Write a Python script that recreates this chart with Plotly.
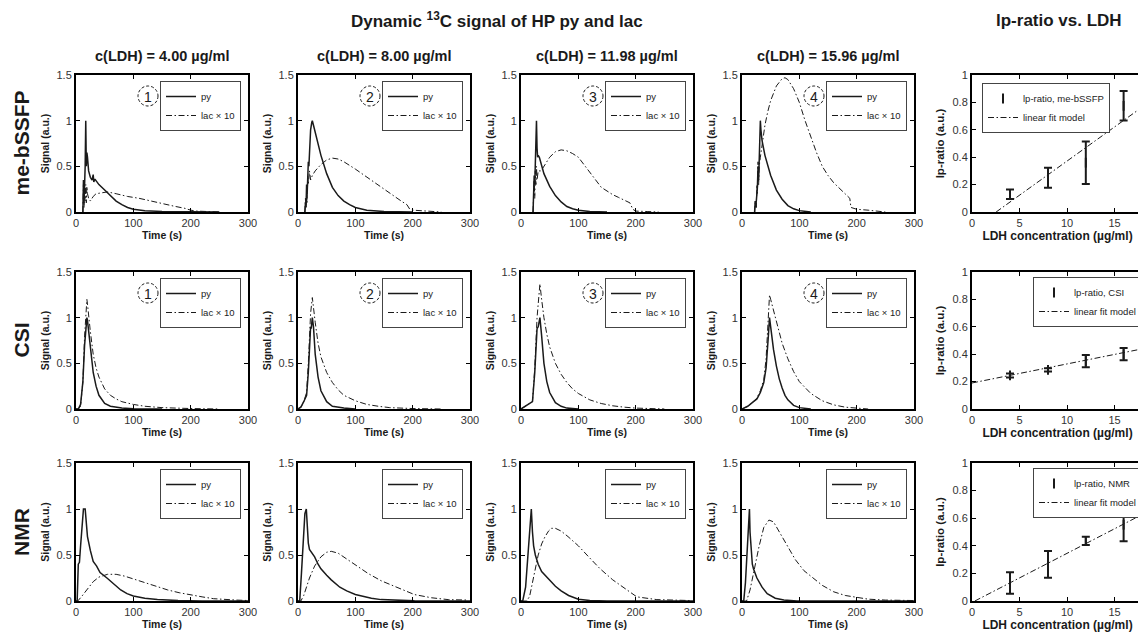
import plotly.graph_objects as go

# ---------------- DATA ----------------
methods = ["me-bSSFP", "CSI", "NMR"]
ldh_labels = ["c(LDH) = 4.00 µg/ml", "c(LDH) = 8.00 µg/ml", "c(LDH) = 11.98 µg/ml", "c(LDH) = 15.96 µg/ml"]
time_ticks = [0, 100, 200, 300]
signal_ticks = [0, 0.5, 1, 1.5]
ldh_ticks = [0, 5, 10, 15]
ratio_ticks = [0, 0.2, 0.4, 0.6, 0.8, 1]

# me-bSSFP
t_py_b1 = [12, 13, 14, 15, 16, 17, 18, 19, 20, 22, 25, 28, 30, 31, 33, 36, 40, 50, 60, 70, 80, 90, 100, 120, 150, 200, 250]
py_b1 = [0, 0.35, 0.1, 0.3, 0.5, 1.0, 0.5, 0.65, 0.6, 0.45, 0.38, 0.35, 0.41, 0.33, 0.36, 0.33, 0.3, 0.24, 0.18, 0.12, 0.08, 0.05, 0.03, 0.015, 0.005, 0, 0]
t_lac_b1 = [12, 13, 14, 15, 16, 17, 18, 19, 20, 22, 25, 28, 30, 35, 45, 55, 70, 90, 110, 130, 150, 170, 190, 200, 210, 230, 250]
lac_b1 = [0, 0.3, 0.05, 0.25, 0.12, 0.3, 0.1, 0.28, 0.2, 0.15, 0.12, 0.15, 0.17, 0.2, 0.21, 0.22, 0.2, 0.17, 0.15, 0.12, 0.09, 0.065, 0.04, 0.02, 0.01, 0.005, 0]

t_py_b2 = [12, 13, 14, 15, 16, 17, 18, 19, 20, 22, 24, 25, 27, 30, 35, 40, 50, 60, 70, 80, 90, 100, 120, 150, 200]
py_b2 = [0, 0.1, 0.05, 0.3, 0.2, 0.4, 0.55, 0.5, 0.7, 0.9, 0.98, 1.0, 0.95, 0.88, 0.76, 0.62, 0.42, 0.27, 0.18, 0.12, 0.08, 0.05, 0.02, 0.005, 0]
t_lac_b2 = [12, 13, 14, 15, 16, 17, 18, 20, 22, 25, 30, 40, 50, 60, 70, 80, 100, 120, 140, 160, 180, 190, 195, 200, 220, 250]
lac_b2 = [0, 0.15, 0.05, 0.2, 0.1, 0.4, 0.3, 0.45, 0.35, 0.4, 0.45, 0.52, 0.57, 0.59, 0.58, 0.55, 0.47, 0.38, 0.29, 0.2, 0.12, 0.08, 0.03, 0.02, 0.01, 0]

t_py_b3 = [21, 22, 23, 24, 25, 26, 27, 28, 29, 30, 32, 35, 40, 50, 60, 70, 80, 90, 100, 120, 150]
py_b3 = [0, 0.2, 0.4, 0.3, 0.5, 0.6, 1.0, 0.7, 0.6, 0.62, 0.6, 0.52, 0.42, 0.28, 0.18, 0.11, 0.06, 0.035, 0.02, 0.005, 0]
t_lac_b3 = [21, 22, 23, 24, 25, 26, 27, 28, 30, 35, 40, 50, 60, 70, 80, 90, 100, 110, 120, 130, 140, 150, 160, 170, 180, 190, 195, 200, 220, 240]
lac_b3 = [0, 0.15, 0.35, 0.15, 0.45, 0.3, 0.5, 0.35, 0.45, 0.45, 0.5, 0.6, 0.66, 0.68, 0.67, 0.64, 0.6, 0.52, 0.43, 0.35, 0.27, 0.23, 0.19, 0.16, 0.13, 0.1, 0.03, 0.01, 0.005, 0]

t_py_b4 = [22, 23, 24, 25, 26, 27, 28, 29, 30, 31, 32, 33, 35, 40, 45, 50, 60, 70, 80, 90, 100, 120]
py_b4 = [0, 0.12, 0.05, 0.1, 0.2, 0.3, 0.5, 0.35, 0.6, 0.8, 1.0, 0.9, 0.78, 0.62, 0.5, 0.4, 0.24, 0.14, 0.07, 0.035, 0.015, 0]
t_lac_b4 = [22, 23, 25, 26, 27, 28, 29, 30, 32, 35, 40, 45, 50, 60, 70, 75, 80, 90, 100, 110, 120, 130, 140, 150, 160, 170, 180, 188, 190, 200, 220, 240, 250]
lac_b4 = [0, 0.1, 0.05, 0.3, 0.2, 0.55, 0.3, 0.5, 0.6, 0.75, 0.95, 1.1, 1.22, 1.38, 1.46, 1.47, 1.45, 1.35, 1.2, 1.0, 0.82, 0.65, 0.5, 0.4, 0.32, 0.26, 0.2, 0.15, 0.05, 0.03, 0.02, 0.01, 0]

# CSI
t_py_c1 = [0, 4, 8, 12, 15, 17, 19, 20, 22, 25, 30, 35, 40, 50, 60, 80, 100, 150]
py_c1 = [0, 0, 0.05, 0.3, 0.7, 0.9, 1.0, 0.97, 0.85, 0.65, 0.4, 0.25, 0.15, 0.06, 0.03, 0.01, 0.003, 0]
t_lac_c1 = [0, 4, 8, 12, 15, 17, 19, 20, 22, 25, 30, 35, 40, 50, 60, 70, 80, 100, 120, 150, 200, 250]
lac_c1 = [0, 0, 0.03, 0.3, 0.8, 1.05, 1.2, 1.15, 1.0, 0.85, 0.6, 0.45, 0.35, 0.22, 0.15, 0.11, 0.08, 0.05, 0.03, 0.015, 0.005, 0]

t_py_c2 = [0, 5, 10, 15, 18, 20, 22, 23, 25, 27, 30, 35, 40, 50, 60, 80, 100]
py_c2 = [0, 0.02, 0.08, 0.15, 0.4, 0.7, 0.9, 0.88, 1.0, 0.9, 0.6, 0.35, 0.2, 0.08, 0.03, 0.01, 0]
t_lac_c2 = [0, 5, 10, 15, 18, 20, 22, 25, 27, 30, 35, 40, 50, 60, 70, 80, 100, 120, 140, 160, 200, 250]
lac_c2 = [0, 0.02, 0.08, 0.18, 0.5, 0.8, 1.05, 1.22, 1.1, 0.95, 0.72, 0.57, 0.4, 0.29, 0.21, 0.15, 0.09, 0.05, 0.03, 0.015, 0.005, 0]

t_py_c3 = [0, 5, 10, 15, 20, 24, 26, 28, 30, 33, 36, 40, 45, 50, 60, 70, 80, 100]
py_c3 = [0, 0.02, 0.04, 0.06, 0.08, 0.4, 0.75, 0.88, 0.9, 1.0, 0.8, 0.5, 0.3, 0.18, 0.07, 0.03, 0.01, 0]
t_lac_c3 = [0, 5, 10, 15, 20, 24, 26, 28, 30, 33, 36, 40, 45, 50, 60, 70, 80, 90, 100, 120, 140, 160, 180, 200, 250]
lac_c3 = [0, 0.02, 0.04, 0.06, 0.08, 0.45, 0.8, 1.0, 1.15, 1.37, 1.2, 1.0, 0.82, 0.68, 0.5, 0.38, 0.29, 0.22, 0.17, 0.1, 0.06, 0.035, 0.02, 0.01, 0]

t_py_c4 = [0, 10, 20, 26, 32, 38, 42, 44, 46, 48, 50, 55, 60, 65, 70, 75, 80, 90, 100, 120]
py_c4 = [0, 0.03, 0.08, 0.11, 0.18, 0.29, 0.45, 0.6, 0.8, 1.0, 0.9, 0.65, 0.47, 0.33, 0.23, 0.15, 0.1, 0.04, 0.015, 0]
t_lac_c4 = [0, 10, 20, 26, 32, 38, 42, 45, 48, 50, 55, 60, 65, 70, 80, 90, 100, 110, 120, 140, 160, 180, 200, 220]
lac_c4 = [0, 0.03, 0.08, 0.12, 0.2, 0.32, 0.55, 0.9, 1.25, 1.2, 1.08, 0.95, 0.83, 0.72, 0.55, 0.41, 0.3, 0.23, 0.17, 0.09, 0.045, 0.02, 0.01, 0]

# NMR
t_py_n1 = [0, 2, 4, 6, 8, 10, 13, 16, 18, 20, 25, 30, 36, 42, 54, 66, 78, 89, 100, 120, 142, 178, 220, 300]
py_n1 = [0, 0, 0.4, 0.42, 0.6, 0.8, 1.0, 1.0, 0.85, 0.7, 0.55, 0.43, 0.38, 0.31, 0.25, 0.18, 0.12, 0.08, 0.055, 0.03, 0.015, 0.005, 0, 0]
t_lac_n1 = [0, 3, 10, 20, 30, 40, 55, 70, 85, 100, 120, 140, 160, 180, 200, 220, 240, 260, 280, 300]
lac_n1 = [0, 0, 0.05, 0.13, 0.21, 0.26, 0.29, 0.29, 0.27, 0.24, 0.2, 0.16, 0.12, 0.09, 0.065, 0.045, 0.025, 0.015, 0.01, 0.005]

t_py_n2 = [0, 3, 6, 10, 12, 14.5, 16, 18, 20, 24, 29, 35, 40, 50, 58, 73, 85, 100, 115, 128, 145, 170, 203, 300]
py_n2 = [0, 0, 0.3, 0.75, 0.95, 1.0, 0.8, 0.63, 0.56, 0.53, 0.48, 0.4, 0.35, 0.28, 0.23, 0.15, 0.11, 0.07, 0.045, 0.03, 0.015, 0.007, 0.002, 0]
t_lac_n2 = [0, 5, 10, 15, 20, 29, 40, 50, 58, 70, 87, 105, 122, 145, 175, 203, 233, 262, 297]
lac_n2 = [0, 0, 0.06, 0.15, 0.25, 0.38, 0.48, 0.53, 0.54, 0.52, 0.45, 0.37, 0.3, 0.22, 0.14, 0.07, 0.035, 0.015, 0.01]

t_py_n3 = [0, 3, 8, 12, 15, 18, 20, 22, 25, 30, 36, 45, 53, 60, 70, 83, 100, 120, 150, 300]
py_n3 = [0, 0, 0.15, 0.5, 0.85, 1.0, 0.75, 0.6, 0.5, 0.4, 0.32, 0.26, 0.21, 0.16, 0.11, 0.06, 0.02, 0.005, 0, 0]
t_lac_n3 = [0, 10, 15, 20, 25, 30, 36, 42, 48, 53, 60, 70, 82, 100, 118, 138, 160, 178, 202, 237, 295]
lac_n3 = [0, 0, 0.05, 0.2, 0.38, 0.5, 0.62, 0.7, 0.76, 0.79, 0.79, 0.76, 0.7, 0.6, 0.48, 0.35, 0.23, 0.15, 0.045, 0.015, 0.005]

t_py_n4 = [0, 3, 6, 9, 11, 13, 14, 16, 18, 20, 26, 35, 44, 58, 73, 96, 150, 300]
py_n4 = [0, 0, 0.2, 0.55, 0.8, 1.0, 0.75, 0.5, 0.4, 0.35, 0.25, 0.15, 0.08, 0.03, 0.01, 0, 0, 0]
t_lac_n4 = [0, 8, 14, 20, 25, 30, 38, 47, 55, 65, 78, 93, 108, 125, 140, 160, 180, 200, 220, 250, 300]
lac_n4 = [0, 0, 0.12, 0.3, 0.45, 0.6, 0.8, 0.88, 0.86, 0.75, 0.6, 0.45, 0.33, 0.24, 0.17, 0.1, 0.06, 0.04, 0.02, 0.01, 0.005]

# lp-ratio vs LDH
ldh_conc = [4.00, 8.00, 11.98, 15.96]
lp_bssfp = [0.13, 0.25, 0.36, 0.775]
lp_bssfp_err = [0.035, 0.073, 0.155, 0.108]
lp_csi = [0.245, 0.285, 0.35, 0.40]
lp_csi_err = [0.015, 0.012, 0.045, 0.045]
lp_nmr = [0.13, 0.265, 0.435, 0.553]
lp_nmr_err = [0.078, 0.097, 0.03, 0.12]
fit_bssfp_x = [2.54, 18]
fit_bssfp_y = [0, 0.77]
fit_csi_x = [0, 18]
fit_csi_y = [0.19, 0.44]
fit_nmr_x = [0.3, 18]
fit_nmr_y = [0, 0.63]

signal_rows = [
    [(t_py_b1, py_b1, t_lac_b1, lac_b1), (t_py_b2, py_b2, t_lac_b2, lac_b2),
     (t_py_b3, py_b3, t_lac_b3, lac_b3), (t_py_b4, py_b4, t_lac_b4, lac_b4)],
    [(t_py_c1, py_c1, t_lac_c1, lac_c1), (t_py_c2, py_c2, t_lac_c2, lac_c2),
     (t_py_c3, py_c3, t_lac_c3, lac_c3), (t_py_c4, py_c4, t_lac_c4, lac_c4)],
    [(t_py_n1, py_n1, t_lac_n1, lac_n1), (t_py_n2, py_n2, t_lac_n2, lac_n2),
     (t_py_n3, py_n3, t_lac_n3, lac_n3), (t_py_n4, py_n4, t_lac_n4, lac_n4)],
]
ratio_rows = [
    (lp_bssfp, lp_bssfp_err, fit_bssfp_x, fit_bssfp_y),
    (lp_csi, lp_csi_err, fit_csi_x, fit_csi_y),
    (lp_nmr, lp_nmr_err, fit_nmr_x, fit_nmr_y),
]

# ---------------- LAYOUT ----------------
W, H = 1146, 635
OFF = 8  # page body margin of the html page
FONT = "Liberation Sans, Arial, sans-serif"
INK = "#1a1a1a"
DASHDOT = "6px,2.5px,1.5px,2.5px"
col_px = [(76, 248), (298, 470), (521, 693), (742, 914), (972, 1143)]
row_px = [(75, 212), (272, 409), (463, 601)]


def px(x):
    return (x - OFF) / W


def py_(y):
    return 1 - (y - OFF) / H


def xdom(c):
    a, b = col_px[c]
    return [px(a), px(b)]


def ydom(r):
    a, b = row_px[r]
    return [py_(b), py_(a)]


fig = go.Figure()
layout = dict(
    width=W, height=H, margin=dict(l=0, r=0, t=0, b=0, autoexpand=False),
    paper_bgcolor="white", plot_bgcolor="white",
    font=dict(family=FONT, color=INK), showlegend=True,
)
shapes, annotations = [], []

axis_base = dict(
    showline=True, linecolor="black", linewidth=2, mirror="ticks",
    ticks="inside", ticklen=4, tickwidth=1, tickcolor="black",
    showgrid=False, zeroline=False,
    tickfont=dict(family=FONT, size=11, color="#333333"),
)


def text_ann(x, y, text, size, bold=True, angle=0, color=INK):
    return dict(x=px(x), y=py_(y), xref="paper", yref="paper", showarrow=False,
                xanchor="center", yanchor="middle", text=text, textangle=angle,
                font=dict(size=size, weight="bold" if bold else "normal",
                          family=FONT, color=color))


for r in range(3):
    for c in range(5):
        k = r * 5 + c + 1
        xs = "x" if k == 1 else f"x{k}"
        ys = "y" if k == 1 else f"y{k}"
        lg = "legend" if k == 1 else f"legend{k}"
        xa = dict(axis_base, domain=xdom(c), anchor=ys)
        ya = dict(axis_base, domain=ydom(r), anchor=xs)
        left, right = col_px[c]
        top = row_px[r][0]
        if c < 4:
            t_py, pyv, t_lac, lac = signal_rows[r][c]
            fig.add_trace(go.Scatter(x=t_py, y=pyv, mode="lines", name="py",
                                     line=dict(color=INK, width=1.5),
                                     xaxis=xs, yaxis=ys, legend=lg))
            fig.add_trace(go.Scatter(x=t_lac, y=lac, mode="lines", name="lac × 10",
                                     line=dict(color=INK, width=1, dash=DASHDOT),
                                     xaxis=xs, yaxis=ys, legend=lg))
            xa.update(range=[0, 300], tickvals=time_ticks,
                      title=dict(text="Time (s)", standoff=3,
                                 font=dict(size=10.5, weight="bold", family=FONT)))
            ya.update(range=[0, 1.5], tickvals=signal_ticks,
                      title=dict(text="Signal (a.u.)", standoff=5,
                                 font=dict(size=10.5, weight="bold", family=FONT)))
            layout[lg] = dict(x=px(right - 7), y=py_(top + 6),
                              xanchor="right", yanchor="top",
                              bgcolor="white", bordercolor="#444", borderwidth=1,
                              font=dict(size=9.5, family=FONT, color="#222"),
                              tracegroupgap=0, itemwidth=30)
            if r < 2:
                cx, cy = right - 100, top + 21
                shapes.append(dict(type="circle", xref="paper", yref="paper",
                                   xsizemode="pixel", ysizemode="pixel",
                                   xanchor=px(cx), yanchor=py_(cy),
                                   x0=-10, x1=10, y0=-10, y1=10,
                                   line=dict(color=INK, width=1, dash="3px,2px")))
                annotations.append(text_ann(cx, cy + 1, str(c + 1), 14, bold=False))
        else:
            vals, errs, fx, fy = ratio_rows[r]
            fig.add_trace(go.Scatter(x=ldh_conc, y=vals, mode="markers",
                                     name=f"lp-ratio, {methods[r]}",
                                     marker=dict(symbol="line-ns-open", size=7, color=INK,
                                                 line=dict(width=2, color=INK)),
                                     error_y=dict(type="data", array=errs, visible=True,
                                                  thickness=2, width=4, color=INK),
                                     xaxis=xs, yaxis=ys, legend=lg))
            fig.add_trace(go.Scatter(x=fx, y=fy, mode="lines", name="linear fit model",
                                     line=dict(color=INK, width=1, dash=DASHDOT),
                                     xaxis=xs, yaxis=ys, legend=lg))
            xa.update(range=[0, 18], tickvals=ldh_ticks,
                      title=dict(text="LDH concentration (µg/ml)", standoff=3,
                                 font=dict(size=12, weight="bold", family=FONT)))
            ya.update(range=[0, 1], tickvals=ratio_ticks,
                      title=dict(text="lp-ratio (a.u.)", standoff=5,
                                 font=dict(size=11.5, weight="bold", family=FONT)))
            if r == 0:
                layout[lg] = dict(x=px(left + 10), y=py_(top + 8),
                                  xanchor="left", yanchor="top")
            else:
                layout[lg] = dict(x=px(right - 1), y=py_(top + 5),
                                  xanchor="right", yanchor="top")
            layout[lg].update(bgcolor="white", bordercolor="#444", borderwidth=1,
                              font=dict(size=9.5, family=FONT, color="#222"),
                              tracegroupgap=0, itemwidth=30)
        layout["xaxis" if k == 1 else f"xaxis{k}"] = xa
        layout["yaxis" if k == 1 else f"yaxis{k}"] = ya

# titles
annotations.append(text_ann(497, 20, "Dynamic <sup>13</sup>C signal of HP py and lac", 17))
annotations.append(text_ann(1059, 20, "lp-ratio vs. LDH", 17))
for c in range(4):
    annotations.append(text_ann(sum(col_px[c]) / 2, 56, ldh_labels[c], 14.5))
for r in range(3):
    annotations.append(text_ann(21, sum(row_px[r]) / 2, methods[r], 21, angle=-90))

layout["shapes"] = shapes
layout["annotations"] = annotations
fig.update_layout(**layout)
fig.write_html("out.html")
